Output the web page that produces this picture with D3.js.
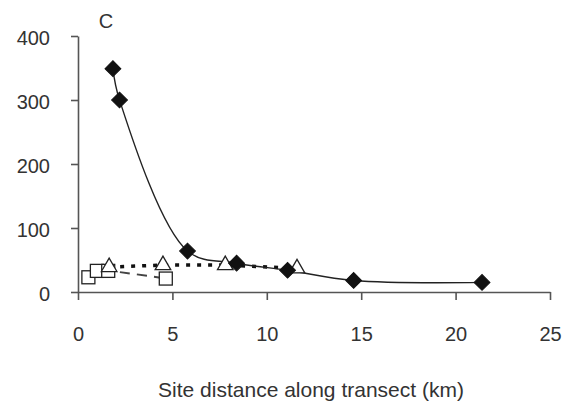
<!DOCTYPE html>
<html><head><meta charset="utf-8">
<script src="https://cdn.jsdelivr.net/npm/d3@7"></script>
<style>body{margin:0;background:#fff}svg{display:block}text{font-family:"Liberation Sans",Arial,sans-serif;fill:#333}</style>
</head><body><svg id="c" width="562" height="404"></svg>
<script>
const diamondX = [1.85, 2.2, 5.8, 8.4, 11.1, 14.6, 21.4];
const diamondY = [349, 300, 64, 45, 34, 18, 15];
const triangleX = [1.65, 4.5, 7.8, 11.6];
const triangleY = [39, 42, 42, 37];
const squareX = [0.55, 1.0, 1.6, 4.65];
const squareY = [23, 33, 33, 21];
const xTicks = [0, 5, 10, 15, 20, 25];
const yTicks = [0, 100, 200, 300, 400];
const panelLabel = "C";
const xTitle = "Site distance along transect (km)";

const svg = d3.select("#c");
const x = d3.scaleLinear().domain([0, 25]).range([78, 550]);
const y = d3.scaleLinear().domain([0, 400]).range([292, 36]);
const axisColor = "#555";

const xa = svg.append("g").attr("transform", `translate(0,${y(0)})`)
  .call(d3.axisBottom(x).tickValues(xTicks).tickSize(8).tickSizeOuter(0).tickPadding(27));
const ya = svg.append("g").attr("transform", `translate(${x(0)},0)`)
  .call(d3.axisLeft(y).tickValues(yTicks).tickSize(7).tickSizeOuter(0).tickPadding(21));
[xa, ya].forEach(a => {
  a.select(".domain").attr("stroke", axisColor).attr("stroke-width", 1.6);
  a.selectAll(".tick line").attr("stroke", axisColor).attr("stroke-width", 1.6);
  a.selectAll("text").attr("font-size", 20).style("fill", "#333");
});
xa.selectAll("text").attr("dy", "0.71em");
ya.selectAll("text").attr("dy", "0.4em");

svg.append("text").attr("x", 106).attr("y", 28).attr("text-anchor", "middle").attr("font-size", 20).text(panelLabel);
svg.append("text").attr("x", 311).attr("y", 397).attr("text-anchor", "middle").attr("font-size", 21).text(xTitle);

const mk = (xs, ys) => xs.map((v, i) => [v, ys[i]]);
const line = d3.line().x(d => x(d[0])).y(d => y(d[1])).curve(d3.curveCatmullRom.alpha(0.5));

// square series - dashed gray
svg.append("path").attr("d", line(mk(squareX, squareY))).attr("fill", "none")
  .attr("stroke", "#444").attr("stroke-width", 2).attr("stroke-dasharray", "10,7");
// triangle series - dotted black
svg.append("path").attr("d", d3.line().x(d => x(d[0])).y(d => y(d[1]))(mk(triangleX, triangleY))).attr("fill", "none")
  .attr("stroke", "#111").attr("stroke-width", 3.5).attr("stroke-dasharray", "4,7");
// diamond series - solid
svg.append("path").attr("d", line(mk(diamondX, diamondY))).attr("fill", "none")
  .attr("stroke", "#222").attr("stroke-width", 1.4);

// markers
svg.append("g").selectAll("rect").data(mk(squareX, squareY)).join("rect")
  .attr("x", d => x(d[0]) - 6.5).attr("y", d => y(d[1]) - 6.5).attr("width", 13).attr("height", 13)
  .attr("fill", "#fff").attr("stroke", "#222").attr("stroke-width", 1.3);
const tri = d3.symbol().type(d3.symbolTriangle).size(105);
svg.append("g").selectAll("path").data(mk(triangleX, triangleY)).join("path")
  .attr("transform", d => `translate(${x(d[0])},${y(d[1])})`).attr("d", tri)
  .attr("fill", "#fff").attr("stroke", "#222").attr("stroke-width", 1.3);
svg.append("g").selectAll("path").data(mk(diamondX, diamondY)).join("path")
  .attr("transform", d => `translate(${x(d[0])},${y(d[1])}) rotate(45)`).attr("d", d3.symbol().type(d3.symbolSquare).size(125))
  .attr("fill", "#111").attr("stroke", "#111").attr("stroke-width", 1);
</script></body></html>
